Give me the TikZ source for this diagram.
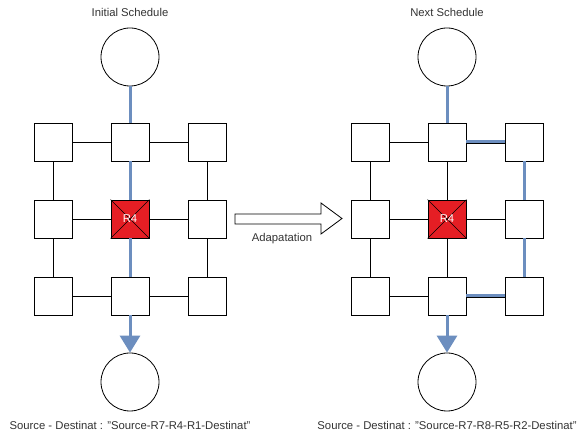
\documentclass[tikz,border=0pt]{standalone}
\usepackage{fontspec}
\setmainfont{Liberation Sans}
\usetikzlibrary{arrows.meta}
\definecolor{pathblue}{HTML}{6C8EBF}
\definecolor{failred}{HTML}{E51E24}
\definecolor{txt}{HTML}{333333}
\begin{document}
\begin{tikzpicture}[x=1pt,y=-1pt,
  router/.style={draw=black,line width=0.8pt,fill=white,minimum size=38pt,inner sep=0pt},
  failed/.style={router,fill=failred,text=white},
  endpoint/.style={circle,draw=black,line width=0.8pt,fill=white,minimum size=58pt,inner sep=0pt},
  link/.style={draw=black,line width=0.8pt},
  route/.style={draw=pathblue,line width=3pt},
  routetip/.style={route,-{Triangle[length=17pt,width=20pt]}},
  lbl/.style={text=txt,font=\fontsize{11.3}{13}\selectfont,inner sep=0pt}]
\useasboundingbox (0,0) rectangle (579,435);
% ---------- left network ----------
\node[lbl] (t1) at (130,12) {Initial Schedule};
\node[endpoint] (s1) at (130,57) {};
\node[endpoint] (d1) at (130,382) {};
\node[router] (a1) at (53,142) {};
\node[router] (a2) at (130,142) {};
\node[router] (a3) at (207,142) {};
\node[router] (a4) at (53,219) {};
\node[failed] (a5) at (130,219) {};
\node[router] (a6) at (207,219) {};
\node[router] (a7) at (53,296) {};
\node[router] (a8) at (130,296) {};
\node[router] (a9) at (207,296) {};
% ---------- right network ----------
\node[lbl] (t2) at (447,12) {Next Schedule};
\node[endpoint] (s2) at (447,57) {};
\node[endpoint] (d2) at (447,382) {};
\node[router] (b1) at (370,142) {};
\node[router] (b2) at (447,142) {};
\node[router] (b3) at (524,142) {};
\node[router] (b4) at (370,219) {};
\node[failed] (b5) at (447,219) {};
\node[router] (b6) at (524,219) {};
\node[router] (b7) at (370,296) {};
\node[router] (b8) at (447,296) {};
\node[router] (b9) at (524,296) {};
% ---------- left links ----------
\draw[link] (a1) -- (a2);
\draw[link] (a2) -- (a3);
\draw[link] (a1) -- (a4);
\draw[link] (a3) -- (a6);
\draw[link] (a4) -- (a5);
\draw[link] (a5) -- (a6);
\draw[link] (a4) -- (a7);
\draw[link] (a6) -- (a9);
\draw[link] (a7) -- (a8);
\draw[link] (a8) -- (a9);
\draw[route] (s1) -- (a2);
\draw[route] (a2) -- (a5);
\draw[route] (a5) -- (a8);
\draw[routetip] (a8) -- (d1);
% ---------- right links ----------
\draw[link] (b1) -- (b2);
\draw[link] (b1) -- (b4);
\draw[link] (b2) -- (b5);
\draw[link] (b4) -- (b5);
\draw[link] (b5) -- (b6);
\draw[link] (b4) -- (b7);
\draw[link] (b5) -- (b8);
\draw[link] (b7) -- (b8);
\draw[route] (s2) -- (b2);
\draw[route] (b2) -- (b3);
\draw[link,transform canvas={yshift=-1pt}] (b2) -- (b3);
\draw[route] (b3) -- (b6);
\draw[route] (b6) -- (b9);
\draw[route] (b9) -- (b8);
\draw[link,transform canvas={yshift=-1pt}] (b9) -- (b8);
\draw[routetip] (b8) -- (d2);
% ---------- failed router marks ----------
\foreach \r in {a5,b5}{
  \draw[line width=0.6pt] (\r.north west) -- (\r.south east);
  \draw[line width=0.6pt] (\r.north east) -- (\r.south west);
  \node[text=white,font=\fontsize{11.3}{13}\selectfont,inner sep=0pt] at (\r) {R4};
}
% ---------- adaptation arrow ----------
\draw[line width=0.8pt,fill=white]
  (235,214) -- (321,214) -- (321,203) -- (342,218.5) -- (321,234) -- (321,224) -- (235,224) -- cycle;
\node[lbl] (adl) at (282,239) {Adapatation};
% ---------- captions ----------
\node[lbl] (c1) at (130,425) {Source - Destinat : "Source-R7-R4-R1-Destinat"};
\node[lbl] (c2) at (447,425) {Source - Destinat : "Source-R7-R8-R5-R2-Destinat"};
\end{tikzpicture}
\end{document}
